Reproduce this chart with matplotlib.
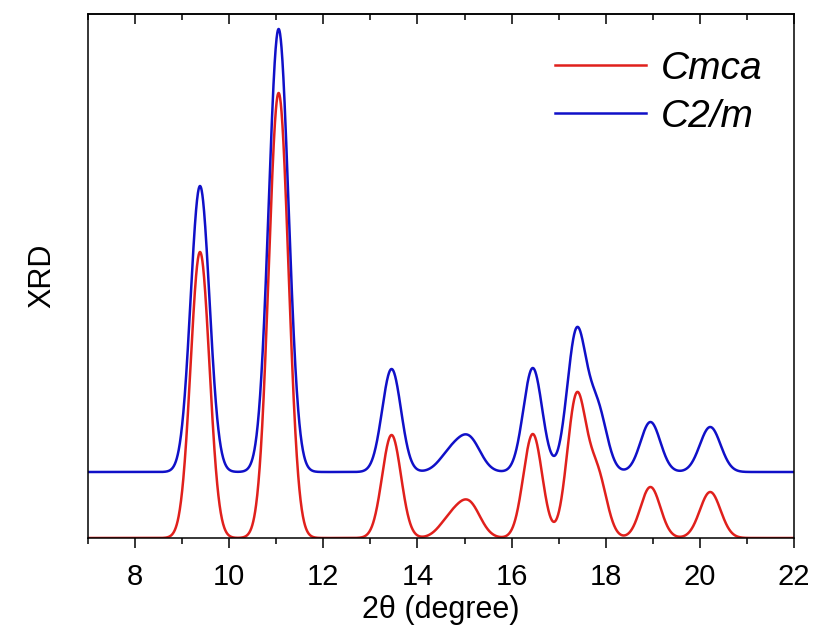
import numpy as np
import matplotlib
matplotlib.use("Agg")
import matplotlib.pyplot as plt
from matplotlib.ticker import MultipleLocator

plt.rcParams['font.family'] = ['Liberation Sans', 'DejaVu Sans']

# peak list (position in 2theta, height, width)
cmca_pos = [9.38, 11.05, 13.45, 14.70, 15.10, 16.45, 17.38, 17.82, 18.95, 20.22]
cmca_height = [286, 445, 103, 18, 33, 104, 140, 62, 51, 46]
cmca_sigma = [0.20, 0.21, 0.20, 0.24, 0.24, 0.20, 0.20, 0.20, 0.21, 0.22]

c2m_pos = [9.38, 11.05, 13.45, 14.70, 15.10, 16.45, 17.38, 17.82, 18.95, 20.22]
c2m_height = [286, 443, 103, 18, 32, 104, 139, 62, 50, 45]
c2m_sigma = [0.20, 0.21, 0.20, 0.24, 0.24, 0.20, 0.20, 0.20, 0.21, 0.22]

c2m_offset = 66

x_ticks = [8, 10, 12, 14, 16, 18, 20, 22]


def pattern(x, pos, height, sigma):
    y = np.zeros_like(x)
    for p, h, s in zip(pos, height, sigma):
        y += h * np.exp(-(x - p) ** 2 / (2 * s ** 2))
    return y


x = np.linspace(7, 22, 3000)
y_cmca = pattern(x, cmca_pos, cmca_height, cmca_sigma)
y_c2m = pattern(x, c2m_pos, c2m_height, c2m_sigma) + c2m_offset

fig = plt.figure(figsize=(8.19, 6.32), dpi=100)
ax = fig.add_axes([88 / 819, 94 / 632, 706 / 819, 524 / 632])

ax.plot(x, y_cmca, color='#e0201c', lw=1.8, label='Cmca')
ax.plot(x, y_c2m, color='#1010c8', lw=1.8, label='C2/m')

ax.set_xlim(7, 22)
ax.set_ylim(0, 524)
ax.set_xticks(x_ticks)
ax.xaxis.set_minor_locator(MultipleLocator(1))
ax.set_yticks([])
ax.tick_params(axis='x', which='major', direction='out', length=7, width=1.1,
               labelsize=21, pad=11)
ax.tick_params(axis='x', which='minor', direction='out', length=4, width=1.1)

top = ax.secondary_xaxis('top')
top.set_xticks(x_ticks)
top.xaxis.set_minor_locator(MultipleLocator(1))
top.tick_params(axis='x', which='major', direction='in', length=7, width=1.1, labeltop=False)
top.tick_params(axis='x', which='minor', direction='in', length=4, width=1.1)
top.spines['top'].set_linewidth(1.1)

for s in ax.spines.values():
    s.set_linewidth(1.1)

ax.set_xlabel('2\u03b8 (degree)', fontsize=22, labelpad=3)
ax.set_ylabel('XRD', fontsize=22, labelpad=22)

leg = ax.legend(loc='upper right', bbox_to_anchor=(762 / 819, 1 - 51 / 632),
                bbox_transform=fig.transFigure, frameon=False,
                prop={'style': 'italic', 'size': 28},
                handlelength=2.35, handletextpad=0.36, labelspacing=0.3,
                borderaxespad=0, borderpad=0)

fig.savefig('out.png', dpi=100)
